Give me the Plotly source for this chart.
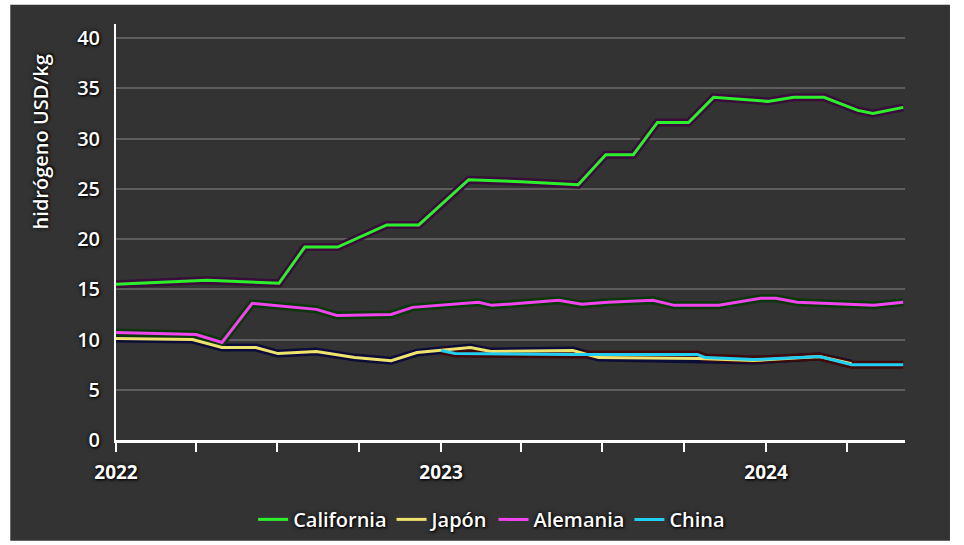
import plotly.graph_objects as go

# ---- data ----
cal_dates = ["2022-01-01", "2022-04-13", "2022-07-03", "2022-08-01", "2022-09-07",
             "2022-11-01", "2022-12-07", "2023-02-01", "2023-04-01", "2023-06-04",
             "2023-07-05", "2023-08-05", "2023-09-01", "2023-10-06", "2023-11-03",
             "2024-01-03", "2024-02-01", "2024-03-06", "2024-04-13", "2024-04-30",
             "2024-06-03"]
cal_vals = [15.5, 15.9, 15.6, 19.2, 19.2,
            21.4, 21.4, 25.9, 25.7, 25.4,
            28.4, 28.4, 31.6, 31.6, 34.1,
            33.7, 34.1, 34.1, 32.8, 32.5,
            33.1]

jap_dates = ["2022-01-01", "2022-03-28", "2022-04-30", "2022-06-07", "2022-07-02",
             "2022-08-14", "2022-09-26", "2022-11-06", "2022-12-05", "2023-01-01",
             "2023-02-03", "2023-02-26", "2023-05-29", "2023-06-27", "2023-10-17",
             "2023-12-18", "2024-03-01", "2024-04-06"]
jap_vals = [10.1, 10.0, 9.2, 9.2, 8.6,
            8.8, 8.2, 7.9, 8.7, 8.9,
            9.2, 8.8, 8.9, 8.2, 8.1,
            7.9, 8.3, 7.6]

ale_dates = ["2022-01-01", "2022-04-01", "2022-04-30", "2022-06-03", "2022-08-14",
             "2022-09-06", "2022-11-06", "2022-11-30", "2023-02-12", "2023-02-27",
             "2023-05-13", "2023-06-08", "2023-07-07", "2023-08-27", "2023-09-20",
             "2023-11-09", "2023-12-26", "2024-01-12", "2024-02-05", "2024-05-01",
             "2024-06-03"]
ale_vals = [10.7, 10.5, 9.7, 13.6, 13.0,
            12.4, 12.5, 13.2, 13.7, 13.4,
            13.9, 13.5, 13.7, 13.9, 13.4,
            13.4, 14.1, 14.1, 13.7, 13.4,
            13.7]

chi_dates = ["2023-01-01", "2023-01-17", "2023-05-30", "2023-06-27", "2023-10-16",
             "2023-10-25", "2023-12-18", "2024-03-01", "2024-04-06", "2024-06-03"]
chi_vals = [8.9, 8.6, 8.5, 8.5, 8.5,
            8.2, 8.0, 8.3, 7.5, 7.5]

x_tickvals = ["2022-01-01", "2022-04-01", "2022-07-01", "2022-10-01",
              "2023-01-01", "2023-04-01", "2023-07-01", "2023-10-01",
              "2024-01-01", "2024-04-01"]
x_ticktext = ["2022", "", "", "", "2023", "", "", "", "2024", ""]
y_tickvals = [0, 5, 10, 15, 20, 25, 30, 35, 40]

series = [
    ("California", cal_dates, cal_vals, "#2CF02C", "#3a0c3a"),
    ("Japón", jap_dates, jap_vals, "#EEE36C", "#0c0c38"),
    ("Alemania", ale_dates, ale_vals, "#F044EE", "#0b380b"),
    ("China", chi_dates, chi_vals, "#22CFF2", "#3e0a0a"),
]

FONT = "Open Sans"
SHADOW = "0px 0px 4px #000000, 1px 1px 2px #000000"

fig = go.Figure()

# dark glow under each line
for name, xs, ys, col, sh in series:
    fig.add_trace(go.Scatter(x=xs, y=ys, mode="lines", showlegend=False,
                             hoverinfo="skip",
                             line=dict(color=sh, width=8)))
for name, xs, ys, col, sh in series:
    fig.add_trace(go.Scatter(x=xs, y=ys, mode="lines", name=name,
                             line=dict(color=col, width=3)))

fig.update_layout(
    width=964, height=545,
    margin=dict(l=116, r=59, t=24, b=105, autoexpand=False),
    paper_bgcolor="#ffffff",
    plot_bgcolor="rgba(0,0,0,0)",
    font=dict(family=FONT, color="#ffffff", size=19),
    showlegend=True,
    legend=dict(orientation="h", xref="container", yref="container",
                x=0.51, xanchor="center", y=0.047, yanchor="middle",
                font=dict(family=FONT, size=20, color="#ffffff", weight=600, shadow=SHADOW),
                bgcolor="rgba(0,0,0,0)", itemwidth=30),
    shapes=[dict(type="rect", xref="paper", yref="paper",
                 x0=-0.134, x1=1.057, y0=-0.242, y1=1.046,
                 fillcolor="#333333", line=dict(width=0), layer="below")],
    annotations=[dict(text="hidrógeno USD/kg", textangle=-90, xref="paper", yref="paper",
                      x=-0.096, y=0.716, xanchor="center", yanchor="middle",
                      showarrow=False,
                      font=dict(family=FONT, size=20, color="#ffffff", weight=600,
                                shadow=SHADOW))],
)

fig.update_xaxes(
    type="date", range=["2022-01-01", "2024-06-05"],
    tickvals=x_tickvals, ticktext=x_ticktext,
    ticks="outside", ticklen=9, tickwidth=2, tickcolor="#ffffff",
    ticklabelstandoff=4,
    showline=True, linecolor="#ffffff", linewidth=3,
    showgrid=False, zeroline=False, automargin=False,
    tickfont=dict(family=FONT, size=19, color="#ffffff", weight="bold", shadow=SHADOW),
)
fig.update_yaxes(
    range=[0, 41.4], tickvals=y_tickvals,
    ticks="", ticklabelstandoff=10,
    showline=True, linecolor="#ffffff", linewidth=2,
    showgrid=True, gridcolor="#5e5e5e", gridwidth=2,
    zeroline=False, automargin=False,
    tickfont=dict(family=FONT, size=20, color="#ffffff", weight=600, shadow=SHADOW),
)

fig.write_html("out.html", config={"displayModeBar": False},
               post_script="document.body.style.margin='0px';")
